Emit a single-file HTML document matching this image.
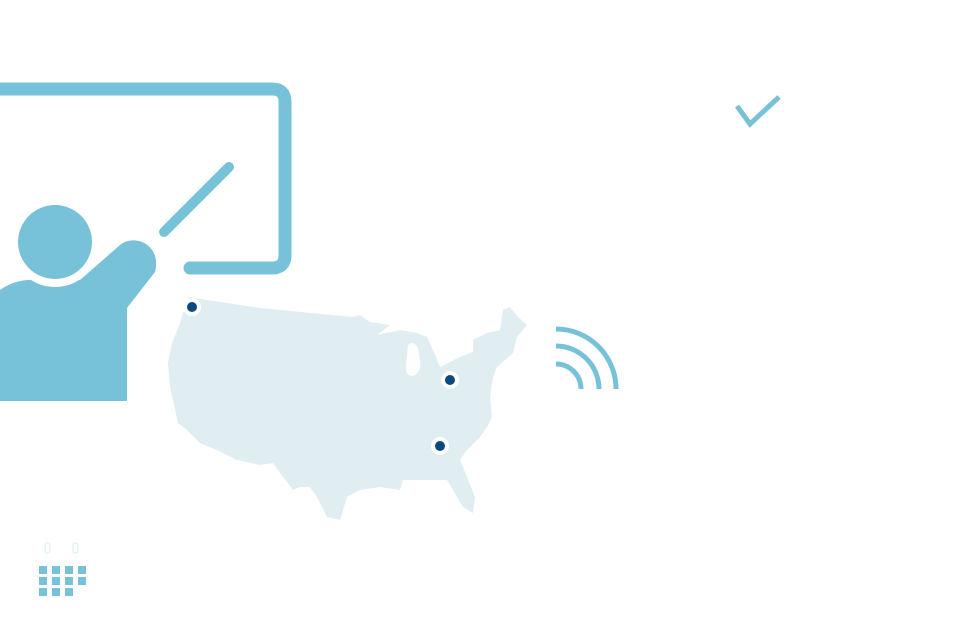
<!DOCTYPE html>
<html><head><style>html,body{margin:0;padding:0;background:#fff}svg{display:block}</style></head>
<body>
<svg width="960" height="643" viewBox="0 0 960 643" xmlns="http://www.w3.org/2000/svg">
<g fill="none" stroke="#77c2d8" stroke-linecap="round">
<path d="M0,89 L272,89 Q285,89 285,102 L285,255 Q285,268 272,268 L190,268" stroke-width="13"/>
<line x1="164" y1="232" x2="229" y2="167" stroke-width="10"/>
</g>
<path d="M0,290 C10,283 20,280 30,280 L80,280 L120,245 C135,233 162,245 155,272 L127,308 L127,401 L0,401 Z" fill="#77c2d8"/>
<circle cx="55" cy="242" r="45" fill="#fff"/>
<circle cx="55" cy="242" r="37" fill="#77c2d8"/>
<path d="M188,297 L260,308 L353,317 L360,315 L370,322 L390,325 L377,335 L400,330 L417,333 L427,337 L433,350 L440,367 L450,362 L460,357 L473,352 L473,340 L487,333 L500,330 L503,310 L510,307 L518,317 L527,325 L517,337 L513,353 L497,367 L493,377 L490,397 L492,417 L487,427 L480,437 L467,450 L460,460 L467,477 L475,497 L473,513 L463,507 L453,490 L447,480 L433,480 L420,480 L403,480 L400,490 L380,487 L360,490 L347,497 L340,520 L327,517 L317,497 L310,487 L300,487 L293,490 L283,477 L273,463 L260,465 L237,460 L217,450 L200,443 L187,430 L178,423 L173,400 L170,387 L168,363 L172,343 L180,323 Z" fill="#e0eef2"/>
<path d="M408,345 Q414,340 418,348 L420,360 Q422,372 413,376 Q405,376 406,365 Z" fill="#fff"/>
<g fill="#fff"><circle cx="192" cy="307" r="9"/><circle cx="450" cy="380" r="9"/><circle cx="440" cy="446" r="9"/></g>
<g fill="#0b4a80"><circle cx="192" cy="307" r="5"/><circle cx="450" cy="380" r="5"/><circle cx="440" cy="446" r="5"/></g>
<g fill="none" stroke="#77c2d8" stroke-width="5">
<path d="M556,364 A25,25 0 0 1 581,389"/>
<path d="M556,346 A43,43 0 0 1 599,389"/>
<path d="M556,329 A60,60 0 0 1 616,389"/>
<path d="M737,106 L750,124 L779,97" stroke-width="5"/>
</g>
<g fill="none" stroke="#d6ecf2" stroke-width="1">
<rect x="45" y="543" width="5" height="10" rx="2.5"/><rect x="73" y="543" width="5" height="10" rx="2.5"/>
</g>
<g fill="#77c2d8">
<rect x="39" y="566" width="8" height="8"/><rect x="52" y="566" width="8" height="8"/><rect x="65" y="566" width="8" height="8"/><rect x="78" y="566" width="8" height="8"/>
<rect x="39" y="577" width="8" height="8"/><rect x="52" y="577" width="8" height="8"/><rect x="65" y="577" width="8" height="8"/><rect x="78" y="577" width="8" height="8"/>
<rect x="39" y="588" width="8" height="8"/><rect x="52" y="588" width="8" height="8"/><rect x="65" y="588" width="8" height="8"/>
</g>
</svg>
</body></html>
